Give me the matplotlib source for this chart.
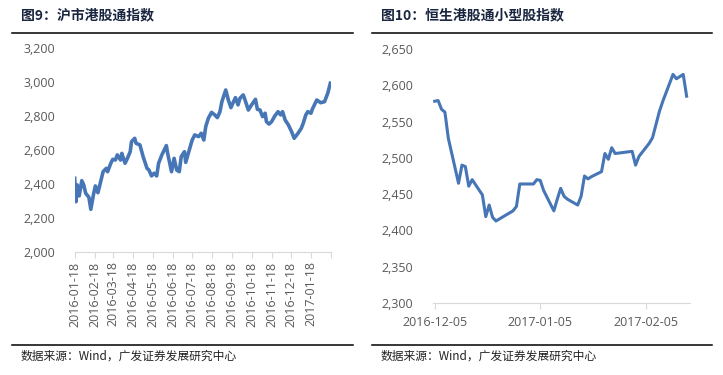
import matplotlib
matplotlib.use("Agg")
import matplotlib.pyplot as plt
import pandas as pd
from matplotlib.lines import Line2D
from matplotlib.ticker import FuncFormatter

plt.rcParams['font.family'] = ['Open Sans', 'Noto Sans CJK SC', 'DejaVu Sans']

# 沪市港股通指数
sh_dates = [
    '2016-01-18', '2016-01-20', '2016-01-22', '2016-01-25', '2016-01-29',
    '2016-02-01', '2016-02-04', '2016-02-09', '2016-02-12', '2016-02-16', '2016-02-19', '2016-02-23', '2016-02-26',
    '2016-03-02', '2016-03-07', '2016-03-09', '2016-03-14', '2016-03-17', '2016-03-21', '2016-03-24', '2016-03-29', '2016-03-31',
    '2016-04-05', '2016-04-08', '2016-04-13', '2016-04-15', '2016-04-20', '2016-04-22', '2016-04-28',
    '2016-05-03', '2016-05-09', '2016-05-12', '2016-05-16', '2016-05-20', '2016-05-24', '2016-05-27',
    '2016-06-01', '2016-06-08', '2016-06-10', '2016-06-16', '2016-06-20', '2016-06-24', '2016-06-28',
    '2016-07-01', '2016-07-06', '2016-07-08', '2016-07-15', '2016-07-18', '2016-07-22', '2016-07-28',
    '2016-08-01', '2016-08-05', '2016-08-08', '2016-08-12', '2016-08-17', '2016-08-22', '2016-08-26', '2016-08-30',
    '2016-09-02', '2016-09-08', '2016-09-12', '2016-09-16', '2016-09-19', '2016-09-23', '2016-09-27', '2016-09-30',
    '2016-10-05', '2016-10-07', '2016-10-13', '2016-10-18', '2016-10-24', '2016-10-27', '2016-10-31',
    '2016-11-04', '2016-11-08', '2016-11-10', '2016-11-14', '2016-11-18', '2016-11-23', '2016-11-28',
    '2016-12-02', '2016-12-05', '2016-12-09', '2016-12-14', '2016-12-19', '2016-12-23', '2016-12-29',
    '2017-01-03', '2017-01-06', '2017-01-10', '2017-01-13', '2017-01-18', '2017-01-20', '2017-01-27',
    '2017-02-02', '2017-02-08', '2017-02-13', '2017-02-17',
]
sh_values = [
    2433, 2295, 2394, 2329, 2419,
    2394, 2345, 2321, 2250, 2335, 2388, 2348, 2394,
    2472, 2492, 2472, 2522, 2545, 2541, 2571, 2541, 2580,
    2522, 2545, 2590, 2649, 2669, 2640, 2630,
    2561, 2492, 2482, 2447, 2463, 2447, 2522,
    2571, 2626, 2580, 2472, 2551, 2482, 2472,
    2561, 2590, 2527, 2620, 2659, 2689, 2679,
    2699, 2659, 2738, 2787, 2822, 2807, 2791, 2826,
    2885, 2954, 2895, 2850, 2876, 2909, 2866, 2905,
    2925, 2905, 2836, 2866, 2899, 2840, 2836,
    2797, 2817, 2767, 2753, 2767, 2801, 2826,
    2807, 2826, 2777, 2748, 2708, 2669, 2699,
    2728, 2758, 2807, 2826, 2817, 2840, 2895,
    2879, 2885, 2935, 2994,
]
sh_ticks = ['2016-01-18', '2016-02-18', '2016-03-18', '2016-04-18', '2016-05-18', '2016-06-18',
            '2016-07-18', '2016-08-18', '2016-09-18', '2016-10-18', '2016-11-18', '2016-12-18',
            '2017-01-18']

# 恒生港股通小型股指数
hs_dates = [
    '2016-12-05', '2016-12-06', '2016-12-07', '2016-12-08', '2016-12-09',
    '2016-12-12', '2016-12-13', '2016-12-14', '2016-12-15', '2016-12-16',
    '2016-12-19', '2016-12-20', '2016-12-21', '2016-12-22', '2016-12-23',
    '2016-12-28', '2016-12-29', '2016-12-30',
    '2017-01-03', '2017-01-04', '2017-01-05', '2017-01-06',
    '2017-01-09', '2017-01-10', '2017-01-11', '2017-01-12', '2017-01-13',
    '2017-01-16', '2017-01-17', '2017-01-18', '2017-01-19', '2017-01-20',
    '2017-01-23', '2017-01-24', '2017-01-25', '2017-01-26', '2017-01-27',
    '2017-02-01', '2017-02-02', '2017-02-03',
    '2017-02-06', '2017-02-07', '2017-02-08', '2017-02-09', '2017-02-10',
    '2017-02-13', '2017-02-14', '2017-02-15', '2017-02-16', '2017-02-17',
]
hs_values = [
    2578, 2579, 2567, 2563, 2527,
    2465, 2490, 2488, 2461, 2470,
    2449, 2419, 2435, 2418, 2413,
    2427, 2433, 2464,
    2464, 2470, 2469, 2455,
    2427, 2443, 2458, 2447, 2443,
    2435, 2447, 2475, 2471, 2474,
    2481, 2506, 2498, 2514, 2506,
    2509, 2490, 2502,
    2520, 2528, 2546, 2564, 2578,
    2615, 2609, 2612, 2615, 2585,
]
hs_ticks = ['2016-12-05', '2017-01-05', '2017-02-05']

line_color = '#4676b6'
tick_color = '#595959'
spine_color = '#d9d9d9'

fig = plt.figure(figsize=(7.23, 3.75), dpi=100)

def style_axes(ax):
    for s in ['top', 'right', 'left']:
        ax.spines[s].set_visible(False)
    ax.spines['bottom'].set_color(spine_color)
    ax.tick_params(axis='y', length=0, pad=14, labelsize=9, labelcolor=tick_color)
    ax.tick_params(axis='x', length=4, color=spine_color, labelsize=9, labelcolor=tick_color)
    ax.yaxis.set_major_formatter(FuncFormatter(lambda v, p: f'{v:,.0f}'))

# left chart
ax1 = fig.add_axes([0.1033, 0.3288, 0.3545, 0.5424])
ax1.plot(pd.to_datetime(sh_dates), sh_values, color=line_color, lw=2.6)
ax1.set_ylim(2000, 3200)
ax1.set_yticks(range(2000, 3201, 200))
ax1.set_xlim(pd.Timestamp('2016-01-18'), pd.Timestamp('2017-02-18'))
xt = list(pd.to_datetime(sh_ticks)) + [pd.Timestamp('2017-02-18')]
ax1.set_xticks(xt)
ax1.set_xticklabels(sh_ticks + [''], rotation=90)
style_axes(ax1)
ax1.tick_params(axis='x', pad=3)

# right chart
ax2 = fig.add_axes([0.5989, 0.192, 0.3555, 0.6773])
ax2.plot(pd.to_datetime(hs_dates), hs_values, color=line_color, lw=2.2)
ax2.set_ylim(2300, 2650)
ax2.set_yticks(range(2300, 2651, 50))
ax2.set_xlim(pd.Timestamp('2016-12-04 12:00'), pd.Timestamp('2017-02-18'))
ax2.set_xticks(pd.to_datetime(hs_ticks))
ax2.set_xticklabels(hs_ticks)
style_axes(ax2)
ax2.tick_params(axis='x', pad=5)

cjk = ['Noto Sans CJK SC', 'DejaVu Sans']
title_color = '#1a2640'
fig.text(20.5 / 723, 1 - 15 / 375, '图9：沪市港股通指数', family=cjk, fontsize=10,
         fontweight='bold', color=title_color, va='center', ha='left')
fig.text(380.5 / 723, 1 - 15 / 375, '图10：恒生港股通小型股指数', family=cjk, fontsize=10,
         fontweight='bold', color=title_color, va='center', ha='left')

src = '数据来源：Wind，广发证券发展研究中心'
fig.text(20.5 / 723, 1 - 356.5 / 375, src, family=cjk, fontsize=8.5, color='#222222',
         va='center', ha='left')
fig.text(380.5 / 723, 1 - 356.5 / 375, src, family=cjk, fontsize=8.5, color='#222222',
         va='center', ha='left')

# black rules under titles and above sources
for x0, x1 in [(11.7, 352.7), (371.7, 711.7)]:
    for yp in [33.3, 345]:
        fig.add_artist(Line2D([x0 / 723, x1 / 723], [1 - yp / 375, 1 - yp / 375],
                              color='black', lw=1.1, transform=fig.transFigure))

fig.savefig('out.png', dpi=100, facecolor='white')
